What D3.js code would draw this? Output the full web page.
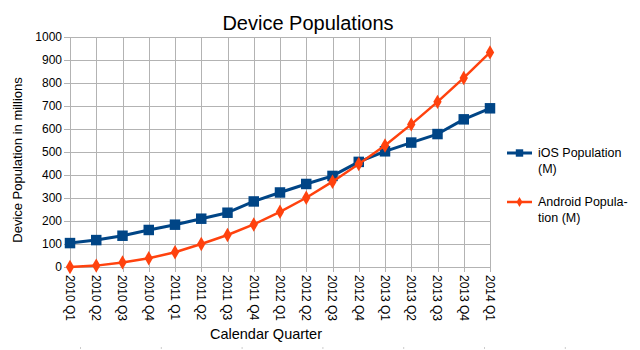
<!DOCTYPE html>
<html>
<head>
<meta charset="utf-8">
<script src="https://cdn.jsdelivr.net/npm/d3@7"></script>
<style>
  body { margin: 0; background: #fff; }
  svg { font-family: "Liberation Sans", Arial, sans-serif; }
</style>
</head>
<body>
<div id="chart"></div>
<script>
const quarters = ["2010 Q1", "2010 Q2", "2010 Q3", "2010 Q4", "2011 Q1", "2011 Q2", "2011 Q3", "2011 Q4",
  "2012 Q1", "2012 Q2", "2012 Q3", "2012 Q4", "2013 Q1", "2013 Q2", "2013 Q3", "2013 Q4", "2014 Q1"];
const iosPop = [104, 117, 136, 161, 184, 210, 236, 285, 324, 361, 396, 457, 503, 541, 578, 642, 690];
const androidPop = [0, 6, 20, 38, 64, 100, 139, 185, 240, 301, 371, 448, 528, 620, 718, 822, 933];
const yTicks = [0, 100, 200, 300, 400, 500, 600, 700, 800, 900, 1000];

const width = 640, height = 350;
const margin = {left: 70, right: 150, top: 37, bottom: 83};

const svg = d3.select("#chart").append("svg")
    .attr("width", width)
    .attr("height", height);

const x = d3.scalePoint()
    .domain(quarters)
    .range([margin.left, width - margin.right]);

const y = d3.scaleLinear()
    .domain([0, 1000])
    .range([height - margin.bottom, margin.top]);

// grid
svg.append("g")
  .selectAll("line")
  .data(yTicks)
  .join("line")
    .attr("x1", margin.left - 6)
    .attr("x2", width - margin.right)
    .attr("y1", d => Math.round(y(d)) + 0.5)
    .attr("y2", d => Math.round(y(d)) + 0.5)
    .attr("stroke", "#b3b3b3");

svg.append("g")
  .selectAll("line")
  .data(quarters)
  .join("line")
    .attr("x1", d => Math.round(x(d)) + 0.5)
    .attr("x2", d => Math.round(x(d)) + 0.5)
    .attr("y1", margin.top)
    .attr("y2", height - margin.bottom + 5)
    .attr("stroke", "#b3b3b3");

// y tick labels
svg.append("g")
    .style("font-size", "12px")
  .selectAll("text")
  .data(yTicks)
  .join("text")
    .attr("x", margin.left - 8)
    .attr("y", d => y(d))
    .attr("dy", "0.35em")
    .attr("text-anchor", "end")
    .text(d => d);

// x tick labels (rotated)
svg.append("g")
    .style("font-size", "12px")
  .selectAll("text")
  .data(quarters)
  .join("text")
    .attr("transform", d => `translate(${x(d)},${height - margin.bottom + 8}) rotate(90)`)
    .attr("dy", "0.35em")
    .attr("text-anchor", "start")
    .text(d => d);

// titles
svg.append("text")
    .attr("x", 308)
    .attr("y", 30)
    .attr("text-anchor", "middle")
    .style("font-size", "20px")
    .text("Device Populations");

svg.append("text")
    .attr("transform", "translate(22,160) rotate(-90)")
    .attr("text-anchor", "middle")
    .style("font-size", "13px")
    .text("Device Population in millions");

svg.append("text")
    .attr("x", 266)
    .attr("y", 339)
    .attr("text-anchor", "middle")
    .style("font-size", "14.5px")
    .text("Calendar Quarter");

// series
const series = [
  {name: ["iOS Population", "(M)"], values: iosPop, color: "#004586", width: 3, shape: d3.symbolSquare, size: 110},
  {name: ["Android Popula-", "tion (M)"], values: androidPop, color: "#ff420e", width: 2.5, shape: d3.symbolDiamond, size: 60}
];

const line = d3.line()
    .x((d, i) => x(quarters[i]))
    .y(d => y(d));

series.forEach(s => {
  svg.append("path")
      .datum(s.values)
      .attr("fill", "none")
      .attr("stroke", s.color)
      .attr("stroke-width", s.width)
      .attr("stroke-linejoin", "round")
      .attr("d", line);

  svg.append("g")
    .selectAll("path")
    .data(s.values)
    .join("path")
      .attr("transform", (d, i) => `translate(${x(quarters[i])},${y(d)})`)
      .attr("fill", s.color)
      .attr("d", d3.symbol(s.shape, s.size));
});

// legend
const legend = svg.append("g")
    .style("font-size", "12.5px");

series.forEach((s, i) => {
  const ly = 153 + i * 49;
  legend.append("line")
      .attr("x1", 507).attr("x2", 532)
      .attr("y1", ly).attr("y2", ly)
      .attr("stroke", s.color)
      .attr("stroke-width", s.width);
  legend.append("path")
      .attr("transform", `translate(519.5,${ly})`)
      .attr("fill", s.color)
      .attr("d", d3.symbol(s.shape, s.size * 0.5));
  legend.append("text")
      .attr("x", 538)
      .attr("y", ly)
      .attr("dy", "0.35em")
      .text(s.name[0]);
  legend.append("text")
      .attr("x", 538)
      .attr("y", ly + 16)
      .attr("dy", "0.35em")
      .text(s.name[1]);
});

// faint page markers along the bottom
svg.append("g")
  .selectAll("rect")
  .data(d3.range(7))
  .join("rect")
    .attr("x", d => 80 + d * 80.8)
    .attr("y", 347)
    .attr("width", 1)
    .attr("height", 2)
    .attr("fill", "#ccc");
</script>
</body>
</html>
